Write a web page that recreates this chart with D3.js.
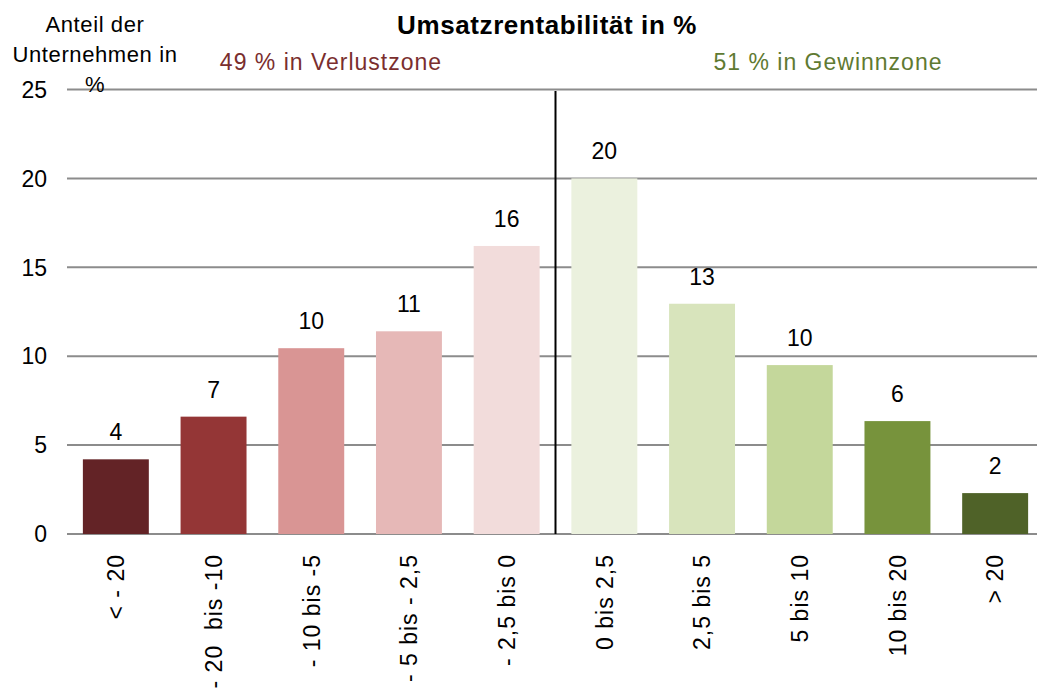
<!DOCTYPE html>
<html>
<head>
<meta charset="utf-8">
<script src="https://cdn.jsdelivr.net/npm/d3@7"></script>
<style>
  body { margin: 0; background: #fff; }
  svg { font-family: "Liberation Sans", Arial, sans-serif; }
</style>
</head>
<body>
<svg id="chart" width="1037" height="690"></svg>
<script>
const categories = ["< - 20", "- 20  bis -10", "- 10 bis -5", "- 5 bis - 2,5", "- 2,5 bis 0",
                    "0 bis 2,5", "2,5 bis 5", "5 bis 10", "10 bis 20", "> 20"];
const values = [4.2, 6.6, 10.45, 11.4, 16.2, 20.0, 12.95, 9.5, 6.35, 2.3];
const valueLabels = ["4", "7", "10", "11", "16", "20", "13", "10", "6", "2"];
const barColors = ["#632326", "#943636", "#D99594", "#E6B8B7", "#F2DCDB",
                   "#EBF1DE", "#D8E4BC", "#C4D79B", "#77933C", "#4F6228"];
const yTicks = [0, 5, 10, 15, 20, 25];

const svg = d3.select("#chart");

const x = d3.scaleBand()
  .domain(categories)
  .range([67, 1044])
  .paddingInner(0.325)
  .paddingOuter(0.1625);

const y = d3.scaleLinear()
  .domain([0, 25])
  .range([534, 89.5]);

// gridlines
svg.append("g")
  .selectAll("line")
  .data(yTicks)
  .join("line")
  .attr("x1", 67)
  .attr("x2", 1037)
  .attr("y1", d => y(d))
  .attr("y2", d => y(d))
  .attr("stroke", "#8c8c8c")
  .attr("stroke-width", 2);

// y tick labels
svg.append("g")
  .selectAll("text")
  .data(yTicks)
  .join("text")
  .attr("x", 47)
  .attr("y", d => y(d))
  .attr("dy", "0.36em")
  .attr("text-anchor", "end")
  .style("font-size", "23px")
  .text(d => d);

// bars
svg.append("g")
  .selectAll("rect")
  .data(categories)
  .join("rect")
  .attr("x", d => x(d))
  .attr("y", (d, i) => y(values[i]))
  .attr("width", x.bandwidth())
  .attr("height", (d, i) => y(0) - y(values[i]))
  .attr("fill", (d, i) => barColors[i]);

// value labels
svg.append("g")
  .selectAll("text")
  .data(categories)
  .join("text")
  .attr("x", d => x(d) + x.bandwidth() / 2)
  .attr("y", (d, i) => y(values[i]) - 19)
  .attr("text-anchor", "middle")
  .style("font-size", "23px")
  .text((d, i) => valueLabels[i]);

// x labels (rotated)
svg.append("g")
  .selectAll("text")
  .data(categories)
  .join("text")
  .attr("transform", d => `translate(${x(d) + x.bandwidth() / 2},554) rotate(-90)`)
  .attr("dy", "0.36em")
  .attr("text-anchor", "end")
  .style("font-size", "23px")
  .style("letter-spacing", "1px")
  .style("white-space", "pre")
  .text(d => d);

// divider between loss and profit zones
const divX = (x(categories[4]) + x.bandwidth() + x(categories[5])) / 2;
svg.append("line")
  .attr("x1", divX).attr("x2", divX)
  .attr("y1", 91).attr("y2", y(0))
  .attr("stroke", "#000")
  .attr("stroke-width", 2);

// title
svg.append("text")
  .attr("x", 547)
  .attr("y", 34)
  .attr("text-anchor", "middle")
  .style("font-size", "26px")
  .style("font-weight", "bold")
  .style("letter-spacing", "0.6px")
  .text("Umsatzrentabilität in %");

// y axis title
svg.append("text")
  .attr("text-anchor", "middle")
  .style("font-size", "22px")
  .style("letter-spacing", "0.6px")
  .selectAll("tspan")
  .data(["Anteil der", "Unternehmen in", "%"])
  .join("tspan")
  .attr("x", 95)
  .attr("y", (d, i) => 32 + i * 30)
  .text(d => d);

// zone annotations
svg.append("text")
  .attr("x", 331)
  .attr("y", 70)
  .attr("text-anchor", "middle")
  .style("font-size", "23px")
  .style("letter-spacing", "1px")
  .attr("fill", "#7a2e2e")
  .text("49 % in Verlustzone");

svg.append("text")
  .attr("x", 828)
  .attr("y", 70)
  .attr("text-anchor", "middle")
  .style("font-size", "23px")
  .style("letter-spacing", "1px")
  .attr("fill", "#5f7a32")
  .text("51 % in Gewinnzone");
</script>
</body>
</html>
